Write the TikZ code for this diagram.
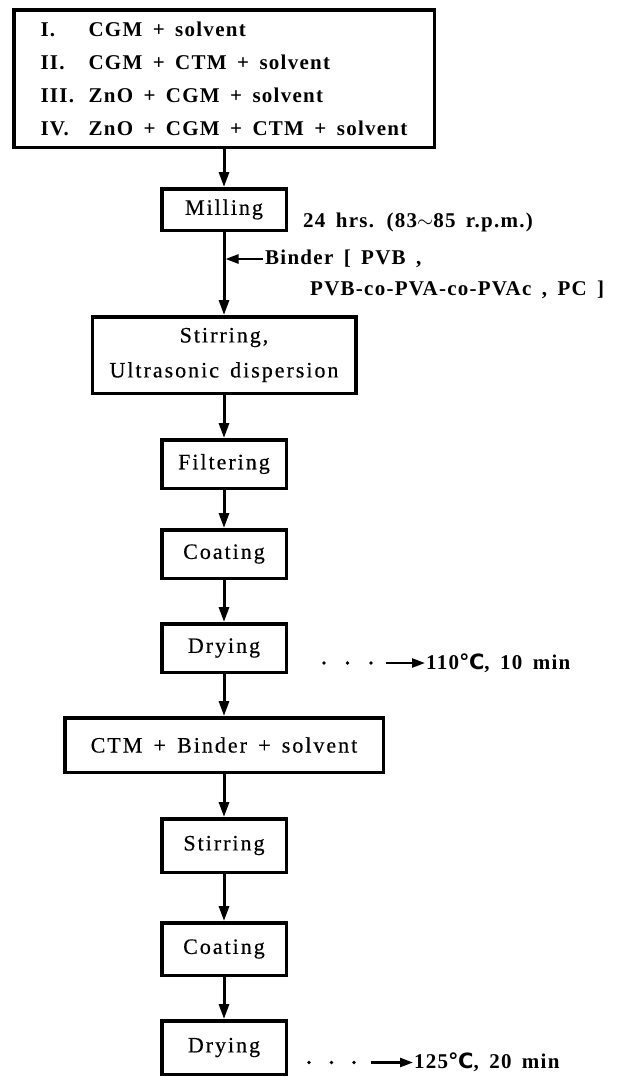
\documentclass[tikz,border=0pt]{standalone}
\usepackage{fontspec}
\setmainfont{Liberation Serif}
\newfontfamily\boxfont[LetterSpace=9,WordSpace=1.5,FakeBold=0.4]{Liberation Serif}
\newfontfamily\notefont[LetterSpace=6,WordSpace=1.6]{Liberation Serif}
\newfontfamily\degfont{DejaVu Sans}
\usetikzlibrary{arrows.meta, positioning}

\begin{document}
\begin{tikzpicture}[
    x=1pt, y=-1pt,
    procbox/.style={rectangle, draw, line width=3.5pt, minimum width=124.5pt, minimum height=48.5pt, inner sep=2pt, align=center, font=\boxfont\fontsize{22}{35}\selectfont},
    listbox/.style={procbox, align=left, minimum width=420.5pt, minimum height=137.5pt, font=\notefont\bfseries\fontsize{21}{33}\selectfont},
    note/.style={inner sep=0pt, anchor=west, font=\notefont\bfseries\fontsize{21}{31}\selectfont},
    flow/.style={line width=3pt, -{Triangle[length=15pt,width=10pt]}},
    feed/.style={line width=2.5pt, -{Triangle[length=13pt,width=9pt]}},
    dotrow/.style={line width=3.8pt, line cap=round, dash pattern=on 0pt off #1}
]
    \useasboundingbox[fill=white] (0,0) rectangle (617,1077);

    % Process steps
    \node[procbox, minimum height=41.5pt] (mill) at (224,209.5) {Milling};
    \node[listbox, above=38pt of mill] (mix) {\makebox[48pt][l]{I.}CGM + solvent\\
        \makebox[48pt][l]{II.}CGM + CTM + solvent\\
        \makebox[48pt][l]{III.}ZnO + CGM + solvent\\
        \makebox[48pt][l]{IV.}ZnO + CGM + CTM + solvent};
    \node[procbox, below=83pt of mill, minimum width=263.5pt, minimum height=76.5pt] (stir) {Stirring,\\Ultrasonic dispersion};
    \node[procbox, below=43pt of stir] (filt) {Filtering};
    \node[procbox, below=38pt of filt] (coat) {Coating};
    \node[procbox, below=42pt of coat] (dry) {Drying};
    \node[procbox, below=42pt of dry, minimum width=318.5pt, minimum height=54.5pt] (ctm) {CTM + Binder + solvent};
    \node[procbox, below=43pt of ctm, minimum height=53.5pt] (stir2) {Stirring};
    \node[procbox, below=47pt of stir2, minimum height=52.5pt] (coat2) {Coating};
    \node[procbox, below=42pt of coat2, minimum height=53.5pt] (dry2) {Drying};

    % Conditions
    \node[note, right=15pt of mill, yshift=-12.5pt] (hrs) {24 hrs. (83$\sim$85 r.p.m.)};
    \node[note, right=41pt of mill.south, yshift=-27pt] (binder) {Binder [ PVB ,};
    \node[note] (binder2) at ([xshift=45pt, yshift=-31pt]binder.west) {PVB-co-PVA-co-PVAc , PC ]};
    \node[note, right=138pt of dry, yshift=-15pt] (temp1) {110{\degfont\bfseries ℃}, 10 min};
    \coordinate[left=40pt of temp1.west] (t1);
    \node[note, right=126pt of dry2, yshift=-15pt] (temp2) {125{\degfont\bfseries ℃}, 20 min};
    \coordinate[left=43pt of temp2.west] (t2);

    % Connections
    \draw[flow] (mix.south) -- (mill.north);
    \draw[flow] (mill.south) -- (stir.north);
    \draw[flow] (stir.south) -- (filt.north);
    \draw[flow] (filt.south) -- (coat.north);
    \draw[flow] (coat.south) -- (dry.north);
    \draw[flow] (dry.south) -- (ctm.north);
    \draw[flow] (ctm.south) -- (stir2.north);
    \draw[flow] (stir2.south) -- (coat2.north);
    \draw[flow] (coat2.south) -- (dry2.north);
    \draw[feed, shorten <=2pt, shorten >=1.5pt] (binder.west) -- (binder.west -| mill.south);

    % Drying temperatures
    \draw[dotrow=23.5pt] ([xshift=-62pt]t1) -- ([xshift=-13pt]t1);
    \draw[feed, shorten >=1pt] (t1) -- (temp1.west);
    \draw[dotrow=22.5pt] ([xshift=-62pt]t2) -- ([xshift=-15pt]t2);
    \draw[feed, shorten >=1pt] (t2) -- (temp2.west);
\end{tikzpicture}
\end{document}
